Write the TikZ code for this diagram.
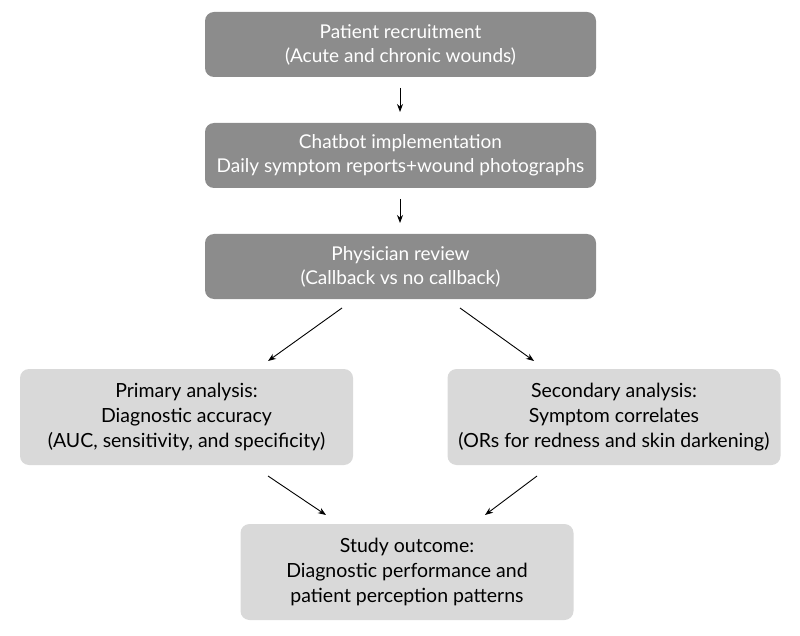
\documentclass[tikz,border=0pt]{standalone}
\usepackage{fontspec}
\setmainfont{Lato}
\usetikzlibrary{arrows.meta}
\begin{document}
\begin{tikzpicture}[x=1pt,y=-1pt,
  darkbox/.style={fill=boxdark,text=white,rounded corners=9pt,minimum width=391pt,minimum height=65pt,align=center,font=\fontsize{19}{24}\selectfont,inner sep=0pt},
  lightbox/.style={fill=boxlight,text=black,rounded corners=9pt,minimum width=333pt,minimum height=96pt,align=center,font=\fontsize{19.5}{25}\selectfont,inner sep=0pt},
  arr/.style={-{Stealth[length=8pt,width=6pt]},line width=0.9pt,black}]
\definecolor{boxdark}{HTML}{8C8C8C}
\definecolor{boxlight}{HTML}{D9D9D9}
\useasboundingbox (0,0) rectangle (800,636);
\node[darkbox] (a) at (400.5,44.5) {Patient recruitment\\(Acute and chronic wounds)};
\node[darkbox] (b) at (400.5,155.5) {Chatbot implementation\\Daily symptom reports+wound photographs};
\node[darkbox] (c) at (400.5,266.5) {Physician review\\(Callback vs no callback)};
\node[lightbox] (p) at (186.5,417) {Primary analysis:\\Diagnostic accuracy\\(AUC, sensitivity, and specificity)};
\node[lightbox] (s) at (614,417) {Secondary analysis:\\Symptom correlates\\(ORs for redness and skin darkening)};
\node[lightbox] (o) at (407,572) {Study outcome:\\Diagnostic performance and\\patient perception patterns};
\coordinate (a1) at (400,88); \coordinate (a2) at (400,112);
\coordinate (b1) at (400,199); \coordinate (b2) at (400,223);
\coordinate (c1) at (342,308); \coordinate (c2) at (268,361);
\coordinate (c3) at (460,308); \coordinate (c4) at (534,361);
\coordinate (p1) at (268,476); \coordinate (p2) at (326,515);
\coordinate (s1) at (537,476); \coordinate (s2) at (485,515);
\draw[arr] (a1) -- (a2);
\draw[arr] (b1) -- (b2);
\draw[arr] (c1) -- (c2);
\draw[arr] (c3) -- (c4);
\draw[arr] (p1) -- (p2);
\draw[arr] (s1) -- (s2);
\end{tikzpicture}
\end{document}
